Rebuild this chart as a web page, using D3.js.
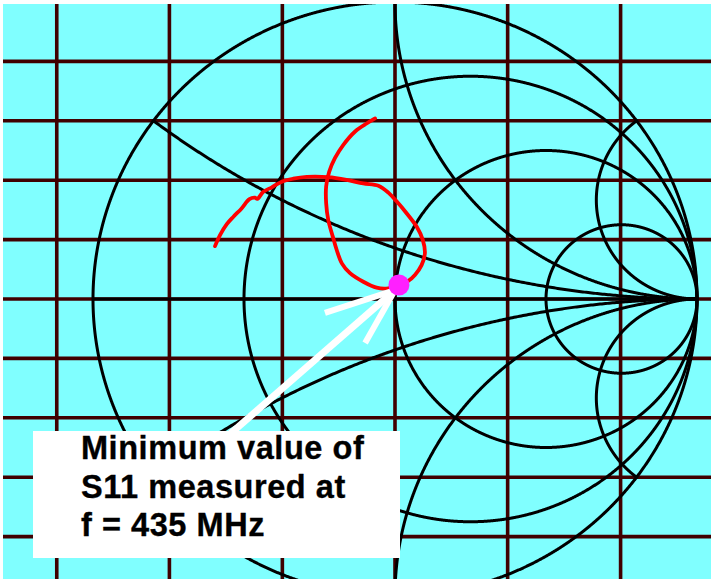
<!DOCTYPE html>
<html>
<head>
<meta charset="utf-8">
<script src="https://cdn.jsdelivr.net/npm/d3@7"></script>
<style>
html,body{margin:0;padding:0;background:#fff}
svg{display:block}
</style>
</head>
<body>
<svg id="c" width="711" height="579"></svg>
<script>
const gridRe = [-1.12, -0.747, -0.373, 0, 0.373, 0.747];
const gridIm = [-0.8, -0.6, -0.4, -0.2, 0, 0.2, 0.4, 0.6, 0.8];
const resistances = [0, 1/3, 1, 3];
const reactances = [1/3, -1/3, 1, -1, 3, -3];
const traceRe = [-0.596,-0.579,-0.557,-0.535,-0.508,-0.482,-0.464,-0.456,-0.436,-0.408,-0.375,-0.337,-0.292,-0.221,-0.160,-0.105,-0.055,-0.022,0.006,0.039,0.072,0.092,0.099,0.088,0.066,0.044,0.013,-0.022,-0.061,-0.105,-0.149,-0.176,-0.193,-0.206,-0.221,-0.228,-0.228,-0.218,-0.199,-0.171,-0.132,-0.094,-0.066];
const traceIm = [0.178,0.216,0.252,0.277,0.305,0.336,0.341,0.337,0.361,0.376,0.395,0.405,0.411,0.410,0.401,0.389,0.381,0.358,0.328,0.288,0.243,0.199,0.154,0.114,0.081,0.061,0.049,0.036,0.038,0.058,0.087,0.120,0.165,0.210,0.266,0.323,0.379,0.428,0.474,0.519,0.564,0.591,0.608];
const minPoint = [0.013, 0.047];
const arrowTip = [0, 0.03];
const arrowTails = [[-0.62, -0.52], [-0.232, -0.047], [-0.099, -0.148]];
const labelLines = ["Minimum value of", "S11 measured at", "f = 435 MHz"];

const W = 711, H = 579;
const sx = d3.scaleLinear().domain([-1, 1]).range([93, 697]);
const sy = d3.scaleLinear().domain([-1, 1]).range([596, 2]);
const svg = d3.select("#c");
const line = d3.line().x(d => sx(d[0])).y(d => sy(d[1]));
const angles = d3.range(0, 2 * Math.PI + 0.002, 0.002);
const circle = (cx, cy, r) => line(angles.map(a => [cx + r * Math.cos(a), cy + r * Math.sin(a)]));

const defs = svg.append("defs");
defs.append("clipPath").attr("id", "frame").append("rect")
  .attr("x", 3).attr("y", 4).attr("width", W - 3).attr("height", H - 4);
defs.append("clipPath").attr("id", "unit").append("ellipse")
  .attr("cx", sx(0)).attr("cy", sy(0))
  .attr("rx", sx(1) - sx(0) + 1.5).attr("ry", sy(0) - sy(1) + 1.5);

const frame = svg.append("g").attr("clip-path", "url(#frame)");
frame.append("rect").attr("x", 3).attr("y", 4).attr("width", W - 3).attr("height", H - 4).attr("fill", "#80ffff");

frame.append("g").selectAll("line").data(gridRe).join("line")
  .attr("x1", d => sx(d)).attr("x2", d => sx(d)).attr("y1", 4).attr("y2", H)
  .attr("stroke", "#400000").attr("stroke-width", 3.6);
frame.append("g").selectAll("line").data(gridIm).join("line")
  .attr("x1", 3).attr("x2", W).attr("y1", d => sy(d)).attr("y2", d => sy(d))
  .attr("stroke", "#400000").attr("stroke-width", 3.6);

const chart = frame.append("g").attr("fill", "none").attr("stroke", "#000").attr("stroke-width", 3);
chart.selectAll("path.r").data(resistances).join("path").attr("class", "r")
  .attr("d", r => circle(r / (1 + r), 0, 1 / (1 + r)));
chart.selectAll("path.x").data(reactances).join("path").attr("class", "x")
  .attr("clip-path", "url(#unit)")
  .attr("d", x => circle(1, 1 / x, 1 / Math.abs(x)));
chart.append("line")
  .attr("x1", sx(-1)).attr("x2", sx(1)).attr("y1", sy(0)).attr("y2", sy(0));

frame.append("path")
  .attr("d", d3.line().x(d => sx(d[0])).y(d => sy(d[1])).curve(d3.curveCatmullRom)(traceRe.map((v, i) => [v, traceIm[i]])))
  .attr("fill", "none").attr("stroke", "#ff0000").attr("stroke-width", 3.8)
  .attr("stroke-linejoin", "round").attr("stroke-linecap", "round");

frame.append("g").selectAll("line").data(arrowTails).join("line")
  .attr("x1", d => sx(d[0])).attr("y1", d => sy(d[1]))
  .attr("x2", sx(arrowTip[0])).attr("y2", sy(arrowTip[1]))
  .attr("stroke", "#fff").attr("stroke-width", (d, i) => i === 0 ? 7 : 6);

frame.append("circle")
  .attr("cx", sx(minPoint[0])).attr("cy", sy(minPoint[1])).attr("r", 10.5)
  .attr("fill", "#ff20ff");

frame.append("rect").attr("x", 33).attr("y", 431).attr("width", 367).attr("height", 127).attr("fill", "#fff");
frame.append("g").selectAll("text").data(labelLines).join("text")
  .attr("x", 81).attr("y", (d, i) => 459 + i * 38.5)
  .attr("font-family", "'Liberation Sans', Arial, sans-serif")
  .attr("font-weight", "bold").attr("font-size", 32.5).attr("letter-spacing", 0.55)
  .attr("fill", "#000").attr("stroke", "#000").attr("stroke-width", 0.35)
  .text(d => d);
</script>
</body>
</html>
